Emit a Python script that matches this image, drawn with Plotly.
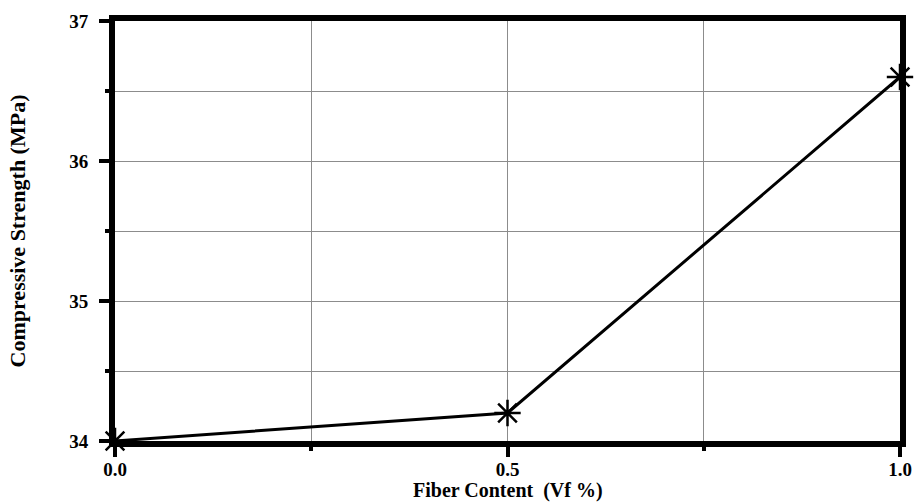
import plotly.graph_objects as go

# Fiber content (Vf %) and measured compressive strength (MPa)
fiber_content = [0.0, 0.5, 1.0]
compressive_strength = [34.0, 34.2, 36.6]

x_tick_vals = [0.0, 0.5, 1.0]
x_tick_text = ["0.0", "0.5", "1.0"]
y_tick_vals = [34, 35, 36, 37]
y_tick_text = ["34", "35", "36", "37"]

FONT = "Liberation Serif"
GRID = "#8c8c8c"

fig = go.Figure()
fig.add_trace(go.Scatter(
    x=fiber_content,
    y=compressive_strength,
    mode="lines+markers",
    line=dict(color="black", width=3),
    marker=dict(symbol="asterisk-open", size=22,
                line=dict(color="black", width=2.5), color="black"),
    cliponaxis=False,
    showlegend=False,
))

axis_common = dict(
    automargin=False,
    showline=True,
    linecolor="black",
    linewidth=6,
    mirror=True,
    ticks="outside",
    ticklen=10,
    tickwidth=4,
    tickcolor="black",
    showgrid=True,
    gridcolor=GRID,
    gridwidth=1,
    zeroline=False,
    tickfont=dict(family=FONT, size=19, color="black", weight="bold"),
)

fig.update_xaxes(
    **axis_common,
    range=[0, 1],
    tickvals=x_tick_vals,
    ticktext=x_tick_text,
    ticklabelstandoff=-4,
    minor=dict(dtick=0.25, tick0=0, ticks="outside", ticklen=4, tickwidth=4,
               tickcolor="black", showgrid=True, gridcolor=GRID, gridwidth=1),
)
fig.update_yaxes(
    **axis_common,
    range=[34, 37],
    tickvals=y_tick_vals,
    ticktext=y_tick_text,
    ticklabelstandoff=7,
    minor=dict(dtick=0.5, tick0=34, ticks="outside", ticklen=4, tickwidth=4,
               tickcolor="black", showgrid=True, gridcolor=GRID, gridwidth=1),
    title=dict(text="Compressive Strength (MPa)", standoff=40,
               font=dict(family=FONT, size=22, color="black", weight="bold")),
)

# x-axis title placed just under the tick labels
fig.add_annotation(
    text="Fiber Content  (Vf %)",
    xref="paper", yref="paper", x=0.5, y=0,
    xanchor="center", yanchor="top", yshift=-37,
    showarrow=False, borderpad=0,
    font=dict(family=FONT, size=20, color="black", weight="bold"),
)

fig.update_layout(
    width=915,
    height=502,
    margin=dict(l=115, r=15, t=21, b=61),
    plot_bgcolor="white",
    paper_bgcolor="white",
)

fig.write_html("out.html")
